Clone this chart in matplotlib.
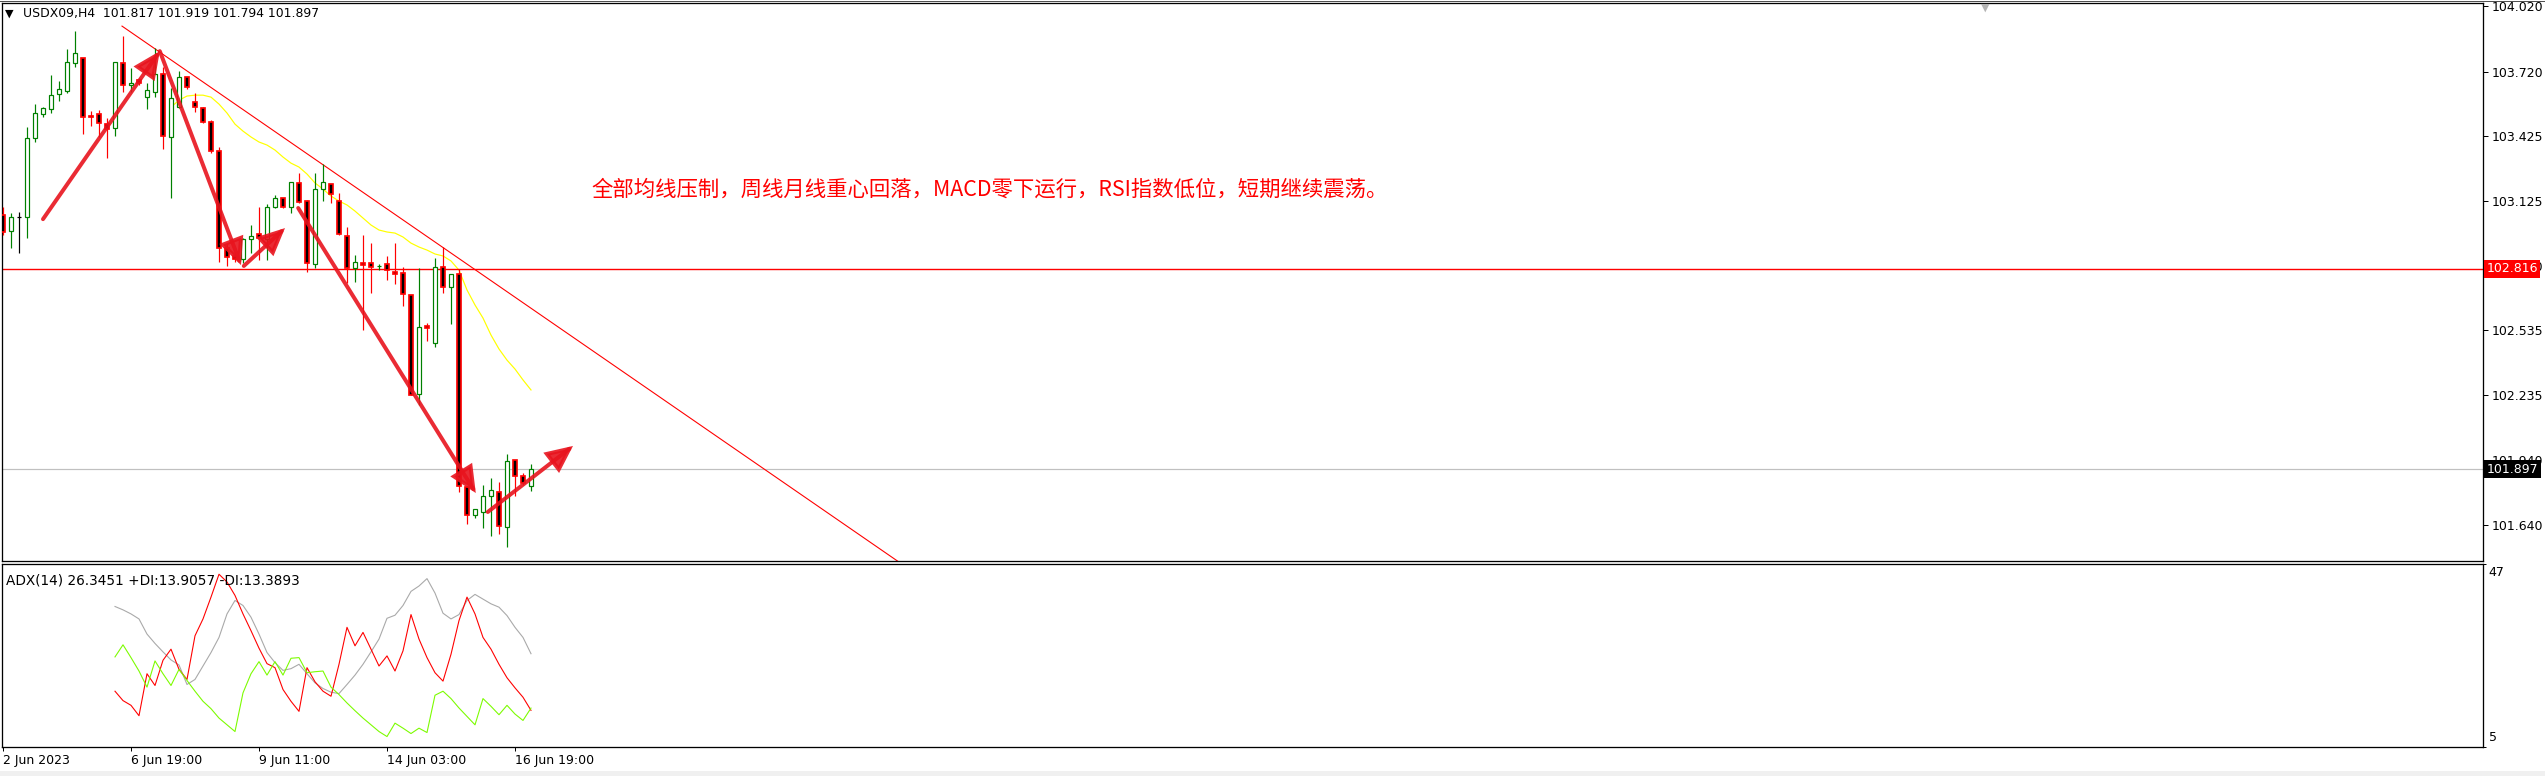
import matplotlib
matplotlib.use("Agg")
import matplotlib.pyplot as plt
from matplotlib.patches import Rectangle, FancyArrowPatch
from matplotlib.lines import Line2D
from matplotlib.transforms import blended_transform_factory

W, H = 2545, 776

# --- H4 candles (bar index 0 = first visible bar) ---------------------
opens = [103.063, 102.989, 103.054, 103.054, 103.416, 103.526, 103.549, 103.618, 103.632, 103.760,
         103.783, 103.517, 103.526, 103.480, 103.462, 103.760, 103.659, 103.682, 103.604, 103.627,
         103.710, 103.421, 103.558, 103.696, 103.581, 103.554, 103.490, 103.356, 102.911, 102.875,
         102.861, 102.953, 102.976, 102.953, 103.099, 103.141, 103.099, 103.210, 103.127, 102.838,
         103.182, 103.205, 103.127, 102.966, 102.820, 102.843, 102.843, 102.829, 102.838, 102.801,
         102.797, 102.696, 102.241, 102.553, 102.475, 102.824, 102.732, 102.792, 101.815, 101.686,
         101.700, 101.773, 101.792, 101.631, 101.938, 101.865, 101.817]
highs = [103.099, 103.072, 103.077, 103.467, 103.572, 103.558, 103.705, 103.678, 103.825, 103.907,
         103.785, 103.540, 103.545, 103.508, 103.767, 103.884, 103.737, 103.692, 103.668, 103.829,
         103.742, 103.645, 103.724, 103.697, 103.623, 103.558, 103.499, 103.375, 102.934, 102.888,
         102.957, 103.017, 103.099, 103.113, 103.155, 103.143, 103.215, 103.256, 103.130, 103.256,
         103.297, 103.207, 103.164, 103.008, 102.879, 102.971, 102.934, 102.838, 102.875, 102.934,
         102.824, 102.698, 102.820, 102.567, 102.865, 102.916, 102.793, 102.815, 101.817, 101.715,
         101.824, 101.856, 101.837, 101.966, 101.940, 101.879, 101.919]
lows = [102.971, 102.911, 102.888, 102.957, 103.398, 103.513, 103.531, 103.586, 103.623, 103.742,
        103.434, 103.471, 103.421, 103.324, 103.425, 103.627, 103.627, 103.659, 103.549, 103.604,
        103.366, 103.141, 103.556, 103.641, 103.535, 103.485, 103.347, 102.847, 102.829, 102.847,
        102.842, 102.888, 102.856, 102.856, 103.095, 103.095, 103.072, 103.118, 102.801, 102.820,
        103.127, 103.118, 102.971, 102.751, 102.755, 102.535, 102.705, 102.811, 102.764, 102.746,
        102.645, 102.235, 102.191, 102.485, 102.457, 102.705, 102.563, 101.792, 101.645, 101.672,
        101.626, 101.590, 101.599, 101.539, 101.773, 101.824, 101.794]
closes = [102.985, 103.054, 103.054, 103.416, 103.531, 103.554, 103.613, 103.641, 103.765, 103.806,
          103.513, 103.513, 103.485, 103.457, 103.765, 103.659, 103.668, 103.668, 103.636, 103.710,
          103.425, 103.600, 103.696, 103.650, 103.558, 103.490, 103.356, 102.911, 102.870, 102.861,
          102.953, 102.966, 102.957, 103.099, 103.141, 103.099, 103.214, 103.122, 102.843, 103.182,
          103.214, 103.159, 102.976, 102.820, 102.847, 102.833, 102.824, 102.830, 102.811, 102.792,
          102.700, 102.237, 102.549, 102.544, 102.824, 102.732, 102.792, 101.819, 101.686, 101.714,
          101.773, 101.801, 101.636, 101.934, 101.865, 101.833, 101.897]

# yellow moving average, starts at bar 21
ma_start = 21
ma_values = [103.558, 103.590, 103.609, 103.613, 103.613, 103.604, 103.572, 103.531, 103.480, 103.448,
             103.421, 103.398, 103.384, 103.361, 103.329, 103.301, 103.283, 103.251, 103.210, 103.182,
             103.150, 103.127, 103.109, 103.081, 103.049, 103.017, 102.994, 102.985, 102.980, 102.962,
             102.934, 102.916, 102.902, 102.884, 102.875, 102.852, 102.810, 102.719, 102.650, 102.590,
             102.512, 102.448, 102.397, 102.356, 102.306, 102.260]

# ADX(14) window, starts at bar 14
adx_start = 14
adx_main = [37.16, 36.39, 35.46, 34.31, 30.85, 28.70, 26.77, 24.93, 23.77, 19.31,
            20.46, 23.54, 26.62, 30.08, 35.46, 38.54, 37.39, 34.70, 30.85, 26.62,
            24.31, 22.54, 22.93, 23.93, 21.77, 19.69, 18.39, 17.54, 17.23, 19.31,
            21.46, 23.93, 26.77, 29.70, 34.46, 35.16, 37.39, 40.62, 41.85, 43.54,
            40.23, 35.62, 34.31, 35.31, 38.54, 39.93, 38.85, 37.77, 37.00, 35.08,
            32.39, 30.08, 26.35]
adx_plus_di = [25.62, 28.39, 25.46, 22.39, 18.70, 24.70, 21.77, 19.08, 22.77, 20.23,
               17.77, 15.46, 13.77, 11.62, 10.08, 8.54, 17.39, 21.77, 24.54, 21.46,
               24.54, 21.46, 25.31, 25.46, 22.00, 22.23, 22.39, 18.70, 17.00, 15.08,
               13.31, 11.62, 10.08, 8.54, 7.39, 10.46, 9.31, 8.08, 9.31, 8.31,
               16.85, 17.77, 16.08, 13.93, 12.00, 10.08, 16.08, 14.31, 12.39, 14.54,
               12.54, 11.08, 13.91]
adx_minus_di = [17.77, 15.62, 14.54, 12.16, 21.77, 19.08, 24.85, 27.39, 22.77, 20.46,
                30.46, 34.31, 39.31, 44.54, 42.77, 39.69, 35.46, 31.62, 27.62, 24.08,
                23.16, 18.16, 15.46, 13.16, 23.16, 19.93, 17.77, 16.62, 23.93, 32.39,
                28.16, 31.23, 27.39, 23.54, 25.85, 22.39, 27.00, 35.31, 29.70, 25.46,
                22.00, 20.08, 26.23, 33.93, 39.31, 35.46, 30.08, 27.39, 23.93, 20.85,
                18.54, 16.39, 13.39]

price_ticks = [104.020, 103.720, 103.425, 103.125, 102.830, 102.535, 102.235, 101.940, 101.640]
time_tick_bars = [0, 16, 32, 48, 64]
time_tick_labels = ["2 Jun 2023", "6 Jun 19:00", "9 Jun 11:00", "14 Jun 03:00", "16 Jun 19:00"]

level_price = 102.816
bid_price = 101.897

# trend line (bar, price) and hand drawn arrows ((bar, price) -> (bar, price))
trend_pts = [(14.875, 103.930), (72.125, 102.480)]
arrows = [((5.0, 103.044), (19.6, 103.815)),
          ((19.6, 103.815), (29.75, 102.833)),
          ((30.1, 102.829), (35.25, 103.003)),
          ((36.9, 103.095), (59.1, 101.787)),
          ((60.6, 101.700), (71.25, 102.003))]

note = "全部均线压制，周线月线重心回落，MACD零下运行，RSI指数低位，短期继续震荡。"

BULL = "#008000"
BEAR = "#ff0000"
PX = 0.72  # one pixel in points at dpi 100


def fig_rect(x0, y_top, x1, y_bot):
    return [x0 / W, 1 - y_bot / H, (x1 - x0) / W, (y_bot - y_top) / H]


fig = plt.figure(figsize=(W / 100, H / 100), dpi=100)
fig.patch.set_facecolor("white")

ax = fig.add_axes(fig_rect(2, 3, 2483, 561))
ax2 = fig.add_axes(fig_rect(2, 563.5, 2483, 747))

xlim = ((2 - 3) / 8, (2483 - 3) / 8)
for a in (ax, ax2):
    a.set_xlim(*xlim)
    for sp in a.spines.values():
        sp.set_color("black")
        sp.set_linewidth(1.3 * PX)

ax.set_ylim(101.475, 104.036)

# --- candles ------------------------------------------------------------
bw = 0.62
for i, (o, h, l, c) in enumerate(zip(opens, highs, lows, closes)):
    if c > o:
        col, face, lw = BULL, "white", 1.2 * PX
    elif c < o:
        col, face, lw = BEAR, "black", 1.7 * PX
    else:
        col, face, lw = "black", "black", 1.2 * PX
    ax.vlines(i, l, h, color=col, linewidth=1.2 * PX, zorder=3)
    ax.add_patch(Rectangle((i - bw / 2, min(o, c)), bw, abs(c - o),
                           facecolor=face, edgecolor=col, linewidth=lw, zorder=4))

ma_x = list(range(ma_start, ma_start + len(ma_values)))
ax.plot(ma_x, ma_values, color="#ffff00", linewidth=1.2 * PX, zorder=2)

# horizontal levels
ax.axhline(level_price, color="#ff0000", linewidth=1.4 * PX, zorder=2)
ax.axhline(bid_price, color="#c0c0c0", linewidth=1.2 * PX, zorder=1)

# trend line ray
(tx0, ty0), (tx1, ty1) = trend_pts
slope = (ty1 - ty0) / (tx1 - tx0)
ax.plot([tx0, 200], [ty0, ty0 + slope * (200 - tx0)], color="#ff0000",
        linewidth=1.1 * PX, zorder=2)

for (a0, a1) in arrows:
    ax.add_patch(FancyArrowPatch(a0, a1, arrowstyle="-|>,head_length=15,head_width=7",
                                 mutation_scale=1, color="#e8141e", alpha=0.9,
                                 linewidth=4 * PX, shrinkA=0, shrinkB=0, zorder=6,
                                 joinstyle="miter"))

ax.text(73.5, 103.177, note, color="#ff0000", fontsize=15.4,
        family=["Noto Sans CJK SC", "DejaVu Sans"], va="center", ha="left", zorder=7)

# price scale
ax.set_xticks([])
ax.yaxis.tick_right()
ax.set_yticks(price_ticks)
ax.set_yticklabels([f"{p:.3f}" for p in price_ticks])
ax.tick_params(axis="y", direction="out", length=3.5, width=PX, pad=2.5,
               labelsize=9, colors="black")

bt = blended_transform_factory(ax.transAxes, ax.transData)
ax.text(1.0015, level_price, "102.816", transform=bt, color="white", fontsize=9,
        va="center", ha="left", zorder=10, clip_on=False,
        bbox=dict(boxstyle="square,pad=0.18", facecolor="#ff0000", edgecolor="none"))
ax.text(1.0015, bid_price, "101.897", transform=bt, color="white", fontsize=9,
        va="center", ha="left", zorder=10, clip_on=False,
        bbox=dict(boxstyle="square,pad=0.18", facecolor="black", edgecolor="none"))

# --- ADX window ---------------------------------------------------------
ax2.set_ylim(5, 47)
adx_x = list(range(adx_start, adx_start + len(adx_main)))
ax2.plot(adx_x, adx_main, color="#a9a9a9", linewidth=1.1 * PX)
ax2.plot(adx_x, adx_minus_di, color="#ff0000", linewidth=1.1 * PX)
ax2.plot(adx_x, adx_plus_di, color="#7cfc00", linewidth=1.1 * PX)

ax2.yaxis.tick_right()
ax2.set_yticks([5, 47])
ax2.set_yticklabels(["", ""])
ax2.tick_params(axis="y", direction="out", length=2, width=PX)
ax2.annotate("47", xy=(1, 47), xycoords=("axes fraction", "data"), xytext=(4, -2),
             textcoords="offset points", ha="left", va="top", fontsize=9,
             annotation_clip=False)
ax2.annotate("5", xy=(1, 5), xycoords=("axes fraction", "data"), xytext=(4, 2),
             textcoords="offset points", ha="left", va="bottom", fontsize=9,
             annotation_clip=False)

ax2.set_xticks(time_tick_bars)
ax2.set_xticklabels(time_tick_labels)
ax2.tick_params(axis="x", direction="out", length=3, width=PX, pad=2, labelsize=9)
for lab in ax2.get_xticklabels():
    lab.set_ha("left")

ax2.text(0.0016, 0.91, "ADX(14) 26.3451 +DI:13.9057 -DI:13.3893", transform=ax2.transAxes,
         fontsize=9.8, ha="left", va="center")

# --- window chrome ------------------------------------------------------
fig.text(5 / W, 1 - 14 / H, "▼", fontsize=8, ha="left", va="center")
fig.text(23 / W, 1 - 14 / H, "USDX09,H4  101.817 101.919 101.794 101.897",
         fontsize=8.9, ha="left", va="center")
fig.text(1985 / W, 1 - 3 / H, "▼", fontsize=8, color="#b4b4b4", ha="center", va="top")
fig.add_artist(Line2D([0, 1], [1 - 0.6 / H, 1 - 0.6 / H], color="#505050",
                      linewidth=PX, transform=fig.transFigure))
fig.add_artist(Rectangle((0, 0), 1, 5 / H, transform=fig.transFigure,
                         facecolor="#f0f0f0", edgecolor="none"))

fig.savefig("out.png", dpi=100, facecolor="white")
